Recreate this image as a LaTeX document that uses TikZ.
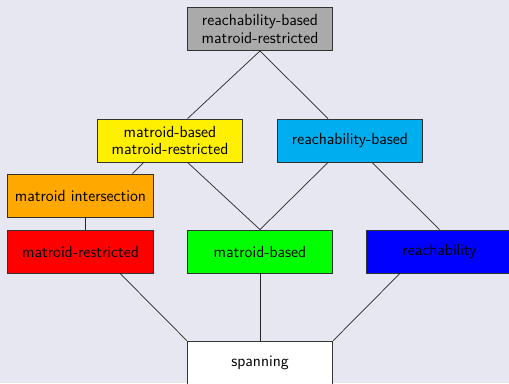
\documentclass[tikz,border=0pt]{standalone}
\usetikzlibrary{calc}
\definecolor{bgc}{RGB}{231,231,241}
\definecolor{topgray}{RGB}{170,170,170}
\definecolor{mycyan}{RGB}{0,174,239}
\definecolor{myorange}{RGB}{255,168,0}
\definecolor{myyellow}{RGB}{255,240,0}
\begin{document}
\begin{tikzpicture}[x=0.25147mm,y=-0.25147mm,
  box/.style={draw=black!80,line width=0.6pt,inner sep=0pt,align=center,
    minimum width=36.6mm,minimum height=10.8mm,font=\sffamily\fontsize{11.5}{12.6}\selectfont},
  link/.style={draw=black!85,line width=0.5pt}]
\fill[bgc] (0,0) rectangle (509,383);
\useasboundingbox (0,0) rectangle (509,383);
\node[box,fill=topgray] (top) at (260,29) {reachability-based\\matroid-restricted};
\node[box,fill=myyellow] (mbmr) at (170,140.5) {matroid-based\\matroid-restricted};
\node[box,fill=mycyan] (rb) at (350,140.5) {reachability-based};
\node[box,fill=myorange] (mi) at (80.5,195.5) {matroid intersection};
\node[box,fill=red] (mr) at (80.5,251.5) {matroid-restricted};
\node[box,fill=green] (mb) at (260,251.5) {matroid-based};
\node[box,fill=blue] (re) at (439.5,251.5) {reachability};
\node[box,fill=white] (sp) at (260,362.5) {spanning};
\draw[link] (top.south) -- ($(mbmr.north west)!0.62!(mbmr.north east)$);
\draw[link] (top.south) -- ($(rb.north west)!0.35!(rb.north east)$);
\draw[link] ($(mbmr.south west)!0.32!(mbmr.south east)$) -- ($(mi.north west)!0.855!(mi.north east)$);
\draw[link] ($(mbmr.south west)!0.62!(mbmr.south east)$) -- (mb.north);
\draw[link] ($(rb.south west)!0.35!(rb.south east)$) -- (mb.north);
\draw[link] ($(rb.south west)!0.65!(rb.south east)$) -- (re.north);
\draw[link] ($(mi.south west)!0.53!(mi.south east)$) -- ($(mr.north west)!0.53!(mr.north east)$);
\draw[link] ($(mr.south west)!0.77!(mr.south east)$) -- (sp.north west);
\draw[link] (mb.south) -- (sp.north);
\draw[link] ($(re.south west)!0.23!(re.south east)$) -- (sp.north east);
\end{tikzpicture}
\end{document}
